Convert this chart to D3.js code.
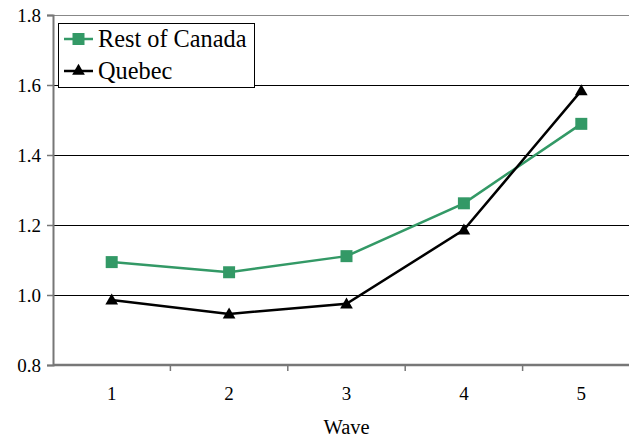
<!DOCTYPE html>
<html><head><meta charset="utf-8">
<script src="https://cdn.jsdelivr.net/npm/d3@7"></script>
<style>body{margin:0;background:#fff}svg{display:block}</style>
</head><body>
<svg id="c" width="629" height="439" font-family="Liberation Serif"></svg>
<script>
const waves = ["1","2","3","4","5"];
const restOfCanada = [1.094, 1.065, 1.111, 1.262, 1.489];
const quebec = [0.986, 0.946, 0.975, 1.186, 1.584];
const yTicks = [0.8, 1.0, 1.2, 1.4, 1.6, 1.8];
const seriesNames = ["Rest of Canada", "Quebec"];
const xTitle = "Wave";

const FONT = "Liberation Serif";
const svg = d3.select("#c");
const m = {left:53, right:640, top:15, bottom:365};
const x = d3.scaleBand().domain(waves).range([m.left, m.right]);
const y = d3.scaleLinear().domain([0.8, 1.8]).range([m.bottom, m.top]);

svg.append("g").selectAll("line").data(yTicks.filter(d=>d>0.8 && d<1.8)).join("line")
  .attr("x1", m.left).attr("x2", m.right)
  .attr("y1", d=>Math.round(y(d))+0.5).attr("y2", d=>Math.round(y(d))+0.5)
  .attr("stroke","#000").attr("stroke-width",1);
svg.append("line").attr("x1", m.left).attr("x2", m.right)
  .attr("y1", y(1.8)+0.5).attr("y2", y(1.8)+0.5).attr("stroke","#888").attr("stroke-width",1);

const ya = svg.append("g").attr("transform",`translate(${m.left},0)`)
  .call(d3.axisLeft(y).tickValues(yTicks).tickFormat(d3.format(".1f")).tickSize(6).tickPadding(6));
ya.attr("font-family",FONT).attr("font-size",19);
ya.select(".domain").attr("stroke","#777").attr("stroke-width",2);
ya.selectAll(".tick line").attr("stroke","#777").attr("stroke-width",1.5);
ya.selectAll("text").attr("fill","#000");

const xa = svg.append("g").attr("transform",`translate(0,${m.bottom})`)
  .call(d3.axisBottom(x).tickSize(0).tickPadding(22));
xa.attr("font-family",FONT).attr("font-size",19);
xa.select(".domain").remove();
xa.append("line").attr("x1",m.left).attr("x2",m.right).attr("y1",0).attr("y2",0)
  .attr("stroke","#777").attr("stroke-width",2.5);
xa.selectAll(".tick text").attr("fill","#000");
xa.selectAll(".bt").data(waves).join("line").attr("class","bt")
  .attr("x1",d=>x(d)+x.bandwidth()).attr("x2",d=>x(d)+x.bandwidth())
  .attr("y1",0).attr("y2",6).attr("stroke","#777").attr("stroke-width",1.5);

svg.append("text").attr("x", (x("3")+x.bandwidth()/2)).attr("y", 434)
  .attr("text-anchor","middle").attr("font-family",FONT).attr("font-size",20.5).text(xTitle);

const cx = d => x(d)+x.bandwidth()/2;
const line = d3.line().x((d,i)=>cx(waves[i])).y(d=>y(d));
const green = "#339966";

svg.append("path").datum(restOfCanada).attr("d",line).attr("fill","none")
  .attr("stroke",green).attr("stroke-width",2.5);
svg.append("path").datum(quebec).attr("d",line).attr("fill","none")
  .attr("stroke","#000").attr("stroke-width",2.5);

const sq = d3.symbol().type(d3.symbolSquare).size(144);
const tri = d3.symbol().type(d3.symbolTriangle).size(70);
svg.append("g").selectAll("path").data(restOfCanada).join("path")
  .attr("d",sq).attr("transform",(d,i)=>`translate(${cx(waves[i])},${y(d)})`).attr("fill",green);
svg.append("g").selectAll("path").data(quebec).join("path")
  .attr("d",tri).attr("transform",(d,i)=>`translate(${cx(waves[i])},${y(d)+1})`).attr("fill","#000");

const lg = svg.append("g");
lg.append("rect").attr("x",58.5).attr("y",23.5).attr("width",196).attr("height",64)
  .attr("fill","#fff").attr("stroke","#000").attr("stroke-width",1);
const items = [{name:seriesNames[0], color:green, sym:sq, yy:39},{name:seriesNames[1], color:"#000", sym:tri, yy:71}];
items.forEach(it=>{
  lg.append("line").attr("x1",64).attr("x2",93).attr("y1",it.yy).attr("y2",it.yy)
    .attr("stroke",it.color).attr("stroke-width",2.5);
  lg.append("path").attr("d",it.sym).attr("transform",`translate(78.5,${it.yy})`).attr("fill",it.color);
  lg.append("text").attr("x",98).attr("y",it.yy+8).attr("font-family",FONT).attr("font-size",24.3).text(it.name);
});
</script>
</body></html>
